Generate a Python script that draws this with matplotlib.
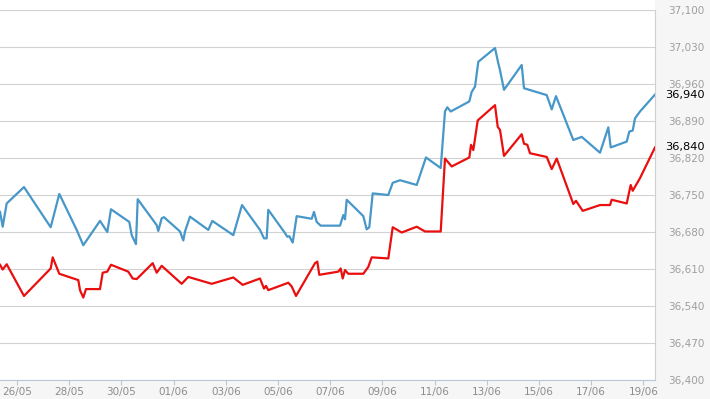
import matplotlib
matplotlib.use("Agg")
import matplotlib.pyplot as plt
from matplotlib.patches import Rectangle

# ── data: x = days since 26/05, y = value ─────────────────────────────────────
blue_x = [-0.651, -0.548, -0.395, 0.268, 1.291, 1.621, 2.287, 2.540, 3.180, 3.460,
          3.602, 4.303, 4.395, 4.559, 4.625, 5.352, 5.414, 5.544, 5.632, 6.245,
          6.372, 6.437, 6.628, 7.330, 7.483, 8.287, 8.621, 9.310, 9.464, 9.567,
          9.628, 10.268, 10.356, 10.433, 10.563, 10.716, 11.291, 11.379, 11.483, 11.636,
          12.375, 12.502, 12.567, 12.632, 13.268, 13.398, 13.498, 13.628, 14.226, 14.395,
          14.674, 15.314, 15.670, 16.234, 16.398, 16.487, 16.617, 17.330, 17.421, 17.548,
          17.674, 18.314, 18.441, 18.506, 18.659, 19.337, 19.425, 20.295, 20.487, 20.651,
          21.314, 21.636, 22.337, 22.655, 22.747, 23.360, 23.460, 23.590, 23.678, 23.870,
          24.444]
blue_y = [36718, 36690, 36734, 36765, 36689, 36752, 36684, 36655, 36701, 36680,
          36723, 36699, 36674, 36657, 36742, 36693, 36682, 36706, 36708, 36681,
          36664, 36681, 36709, 36684, 36701, 36674, 36731, 36684, 36668, 36668,
          36722, 36678, 36671, 36672, 36660, 36710, 36705, 36718, 36699, 36692,
          36692, 36712, 36704, 36741, 36710, 36685, 36689, 36753, 36750, 36773,
          36778, 36769, 36821, 36801, 36908, 36916, 36908, 36927, 36945, 36955,
          37002, 37028, 36999, 36986, 36949, 36996, 36952, 36939, 36912, 36937,
          36854, 36860, 36830, 36878, 36840, 36851, 36870, 36872, 36895, 36908,
          36940]

red_x = [-0.651, -0.548, -0.395, 0.268, 1.291, 1.368, 1.621, 2.349, 2.414, 2.540,
         2.644, 3.180, 3.284, 3.460, 3.602, 4.264, 4.433, 4.586, 5.199, 5.352,
         5.544, 6.310, 6.563, 7.460, 8.287, 8.647, 9.310, 9.464, 9.540, 9.628,
         10.395, 10.525, 10.690, 11.418, 11.506, 11.582, 12.310, 12.402, 12.479, 12.567,
         12.693, 13.268, 13.460, 13.590, 14.226, 14.395, 14.739, 15.314, 15.632, 16.234,
         16.398, 16.655, 17.330, 17.395, 17.483, 17.651, 18.314, 18.418, 18.506, 18.659,
         19.337, 19.425, 19.552, 19.655, 20.295, 20.487, 20.678, 21.314, 21.418, 21.674,
         22.337, 22.720, 22.785, 23.360, 23.513, 23.590, 23.870, 24.444]
red_y = [36618, 36609, 36619, 36559, 36611, 36632, 36601, 36589, 36570, 36556,
         36572, 36572, 36603, 36605, 36618, 36605, 36592, 36591, 36621, 36603,
         36616, 36582, 36595, 36582, 36594, 36580, 36592, 36573, 36578, 36570,
         36584, 36577, 36559, 36621, 36624, 36599, 36605, 36611, 36592, 36608,
         36601, 36601, 36614, 36632, 36630, 36689, 36679, 36690, 36681, 36681,
         36819, 36804, 36821, 36845, 36835, 36891, 36920, 36879, 36873, 36824,
         36865, 36847, 36845, 36829, 36822, 36799, 36819, 36733, 36739, 36720,
         36731, 36731, 36741, 36734, 36769, 36758, 36782, 36840]

x_ticks = [0, 2, 4, 6, 8, 10, 12, 14, 16, 18, 20, 22, 24]
x_labels = ["26/05", "28/05", "30/05", "01/06", "03/06", "05/06", "07/06",
            "09/06", "11/06", "13/06", "15/06", "17/06", "19/06"]
y_ticks = [36400, 36470, 36540, 36610, 36680, 36750, 36820, 36890, 36960, 37030, 37100]
last_blue = 36940
last_red = 36840

# ── plot ──────────────────────────────────────────────────────────────────────
fig = plt.figure(figsize=(7.10, 3.99), dpi=100, facecolor="#f6f6f6")
ax = fig.add_axes([0.0, 1 - 380 / 399, 655 / 710, 370 / 399])
ax.set_facecolor("white")

# white strip above the plot area (the chart continues up there)
fig.patches.append(Rectangle((0, 1 - 10 / 399), 655 / 710, 10 / 399,
                             transform=fig.transFigure, facecolor="white",
                             edgecolor="none", zorder=0))

ax.plot(blue_x, blue_y, color="#4797c8", linewidth=1.6, zorder=3)
ax.plot(red_x, red_y, color="#ea0f0f", linewidth=1.6, zorder=3)

ax.set_xlim(-0.651, 24.444)
ax.set_ylim(36400, 37100)

ax.set_yticks(y_ticks)
ax.set_yticklabels([f"{v:,}" for v in y_ticks])
ax.yaxis.tick_right()
ax.tick_params(axis="y", length=0, pad=9.5, labelsize=7.5, labelcolor="#9e9e9e")
ax.set_xticks(x_ticks)
ax.set_xticklabels(x_labels)
ax.tick_params(axis="x", direction="out", length=3.6, width=0.8, color="#b8c8d8",
               pad=1.2, labelsize=7.5, labelcolor="#8c8c8c")

ax.grid(axis="y", color="#d2d2d2", linewidth=0.8, zorder=1)
for side in ["top", "left"]:
    ax.spines[side].set_visible(False)
ax.spines["right"].set_color("#d0d0d0")
ax.spines["right"].set_linewidth(0.8)
ax.spines["bottom"].set_color("#b8c8d8")
ax.spines["bottom"].set_linewidth(0.8)

# current values on the right
for v in [last_blue, last_red]:
    ax.annotate(f"{v:,}", xy=(1, v), xycoords=("axes fraction", "data"),
                xytext=(7.5, 0), textcoords="offset points",
                ha="left", va="center", fontsize=8.2, color="black",
                bbox=dict(boxstyle="square,pad=0.05", facecolor="#f6f6f6",
                          edgecolor="none"))

fig.savefig("out.png", dpi=100, facecolor=fig.get_facecolor())
